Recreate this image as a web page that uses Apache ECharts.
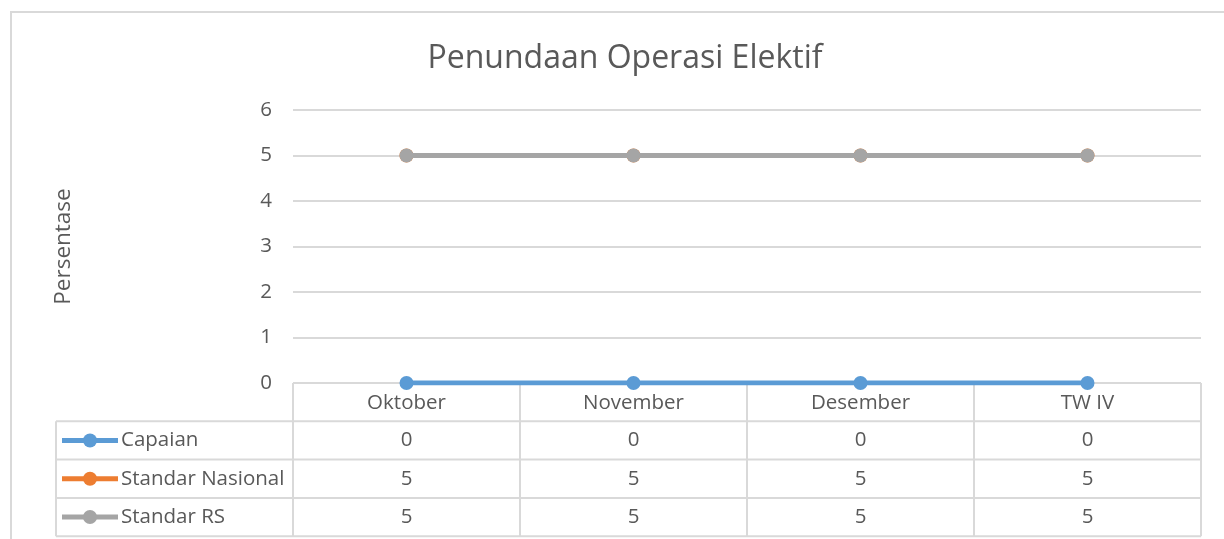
<!DOCTYPE html>
<html><head><meta charset="utf-8">
<script src="https://cdn.jsdelivr.net/npm/echarts@6/dist/echarts.min.js"></script>
<style>html,body{margin:0;padding:0;background:#fff}#c{width:1224px;height:539px}</style>
</head><body><div id="c"></div>
<script>
const categories = ['Oktober','November','Desember','TW IV'];
const capaian = [0,0,0,0];
const standarNasional = [5,5,5,5];
const standarRS = [5,5,5,5];
const seriesNames = ['Capaian','Standar Nasional','Standar RS'];
const seriesColors = ['#5B9BD5','#ED7D31','#A5A5A5'];
const seriesData = [capaian, standarNasional, standarRS];

const FONT = 'Open Sans';
const TXT = '#595959';
const LINE = '#d9d9d9';
const FS = 20.5;

const chart = echarts.init(document.getElementById('c'));
function mkSeries(i){
  return {name:seriesNames[i], type:'line', data:seriesData[i], symbol:'circle', symbolSize:14,
    lineStyle:{width:5,color:seriesColors[i]}, itemStyle:{color:seriesColors[i]}, z:2+i, silent:true};
}
const base = {
  animation:false,
  title:{text:'Penundaan Operasi Elektif', left:620, top:38, textAlign:'center',
    textStyle:{fontFamily:FONT, fontSize:32, fontWeight:'normal', color:TXT}},
  grid:{left:293, right:23, top:110, bottom:156},
  xAxis:{type:'category', data:categories, boundaryGap:true,
    axisLine:{show:false}, axisTick:{show:false}, axisLabel:{show:false}},
  yAxis:{type:'value', min:0, max:6, interval:1, name:'Persentase', nameLocation:'middle', nameGap:218,
    nameTextStyle:{fontFamily:FONT, fontSize:22.5, color:TXT},
    axisLine:{show:false}, axisTick:{show:false},
    axisLabel:{fontFamily:FONT, fontSize:FS, color:TXT, margin:21, padding:[3,0,0,0]},
    splitLine:{lineStyle:{color:LINE, width:2}}},
  series:[mkSeries(0), mkSeries(1), mkSeries(2)]
};
chart.setOption(base);

// Build data table from the grid geometry
const px0 = chart.convertToPixel({xAxisIndex:0}, categories[0]);
const px1 = chart.convertToPixel({xAxisIndex:0}, categories[1]);
const band = px1 - px0;
const tLeft = px0 - band/2;
const tRight = tLeft + band*categories.length;
const tTop = chart.convertToPixel({yAxisIndex:0}, 0);
const rowH = 38.3;
const legLeft = 56;
const g = [];
g.push({type:'rect', shape:{x:11, y:12, width:1400, height:700}, style:{fill:null, stroke:LINE, lineWidth:2}, silent:true, z:0});
g.push({type:'line', shape:{x1:tLeft,y1:tTop,x2:tRight,y2:tTop}, style:{stroke:LINE,lineWidth:2}, z:1});
for(let r=1;r<=4;r++){
  const y = tTop + rowH*r;
  g.push({type:'line', shape:{x1:legLeft,y1:y,x2:tRight,y2:y}, style:{stroke:LINE,lineWidth:2}, z:1});
}
g.push({type:'line', shape:{x1:legLeft,y1:tTop+rowH,x2:legLeft,y2:tTop+rowH*4}, style:{stroke:LINE,lineWidth:2}, z:1});
for(let c=0;c<=categories.length;c++){
  const x = tLeft + band*c;
  g.push({type:'line', shape:{x1:x,y1:tTop,x2:x,y2:tTop+rowH*4}, style:{stroke:LINE,lineWidth:2}, z:1});
}
categories.forEach((cat,c)=>{
  g.push({type:'text', x:tLeft+band*(c+0.5), y:tTop+rowH*0.5+1, style:{text:cat, fontFamily:FONT, fontSize:FS, fill:TXT, align:'center', verticalAlign:'middle'}, z:5});
});
seriesNames.forEach((nm,i)=>{
  const yc = tTop + rowH*(i+1.5);
  g.push({type:'line', shape:{x1:62,y1:yc,x2:118,y2:yc}, style:{stroke:seriesColors[i],lineWidth:5}, z:5});
  g.push({type:'circle', shape:{cx:90,cy:yc,r:7}, style:{fill:seriesColors[i]}, z:6});
  g.push({type:'text', x:121, y:yc, style:{text:nm, fontFamily:FONT, fontSize:FS, fill:TXT, align:'left', verticalAlign:'middle'}, z:5});
  seriesData[i].forEach((v,c)=>{
    g.push({type:'text', x:tLeft+band*(c+0.5), y:yc, style:{text:String(v), fontFamily:FONT, fontSize:FS, fill:TXT, align:'center', verticalAlign:'middle'}, z:5});
  });
});
chart.setOption({graphic:g});
</script></body></html>
